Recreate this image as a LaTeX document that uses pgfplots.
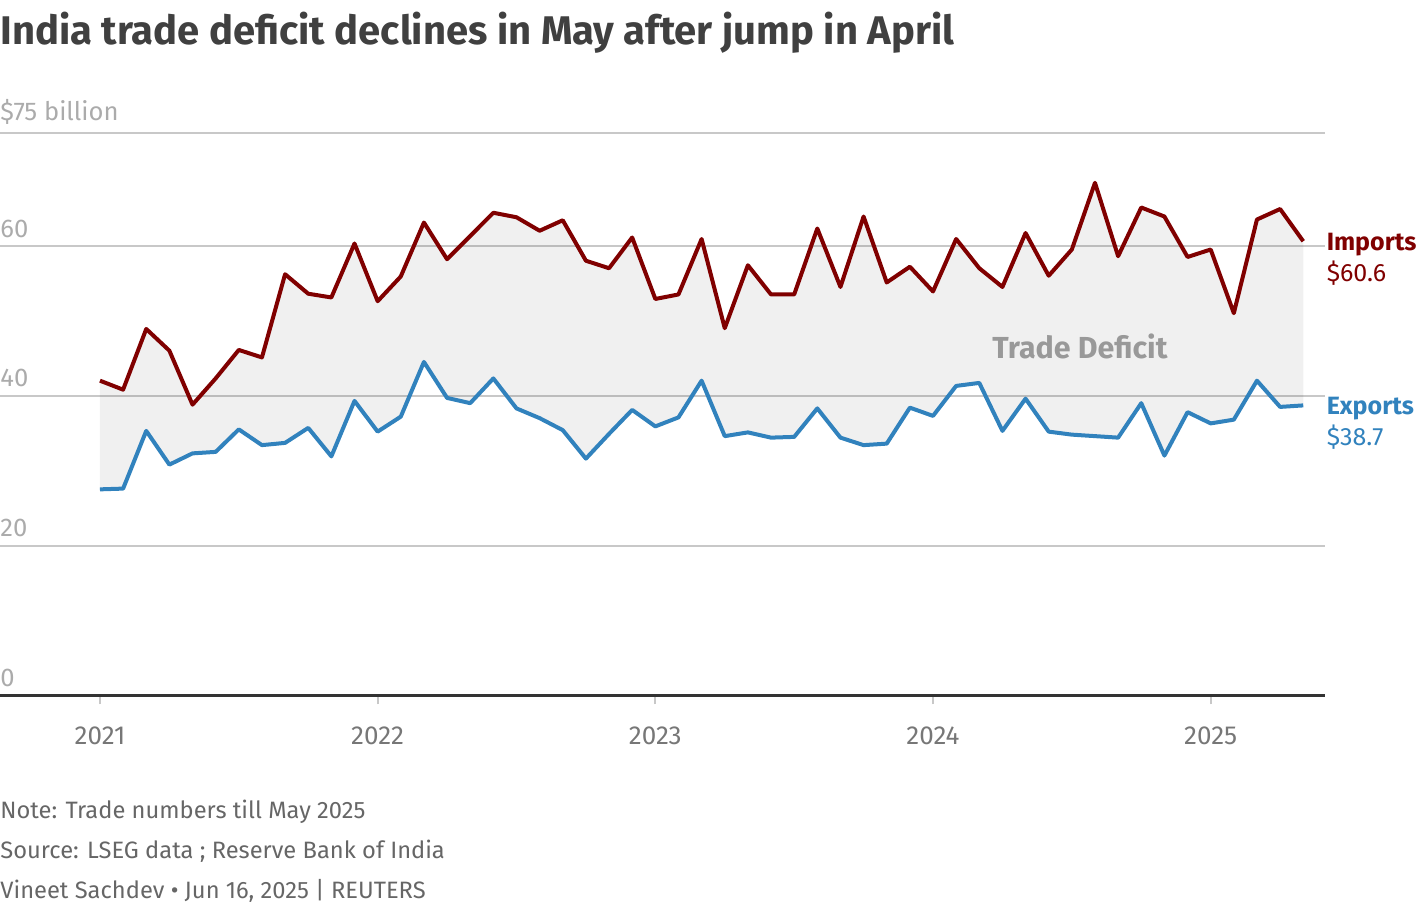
\documentclass[border=0pt]{standalone}
\usepackage{pgfplots}
\pgfplotsset{compat=1.18}
\usepgfplotslibrary{fillbetween}
\usepackage{fontspec}
\setmainfont{Fira Sans}

\definecolor{impred}{HTML}{800000}
\definecolor{expblue}{HTML}{3182BD}
\definecolor{gridgray}{HTML}{C8C8C8}
\definecolor{ylab}{HTML}{ABABAB}
\definecolor{xlab}{HTML}{777777}
\definecolor{foot}{HTML}{666666}
\definecolor{titlegray}{HTML}{404040}
\definecolor{defgray}{HTML}{999999}
\definecolor{baseline}{HTML}{333333}

% monthly values, Jan 2021 (0) .. May 2025 (52), $ billion
\pgfplotstableread{
m imp exp
0 42.0 27.5
1 40.8 27.6
2 48.9 35.3
3 46.0 30.8
4 38.8 32.3
5 42.3 32.5
6 46.1 35.5
7 45.1 33.4
8 56.2 33.7
9 53.6 35.7
10 53.1 31.9
11 60.3 39.3
12 52.6 35.2
13 55.9 37.2
14 63.1 44.5
15 58.2 39.7
16 61.3 39.0
17 64.4 42.3
18 63.8 38.3
19 62.0 37.0
20 63.4 35.4
21 58.0 31.6
22 57.0 34.9
23 61.1 38.1
24 52.9 35.9
25 53.5 37.1
26 60.9 42.0
27 49.0 34.6
28 57.4 35.1
29 53.5 34.4
30 53.5 34.5
31 62.3 38.3
32 54.5 34.4
33 63.9 33.4
34 55.1 33.6
35 57.2 38.4
36 53.9 37.3
37 60.9 41.3
38 57.0 41.7
39 54.5 35.3
40 61.7 39.6
41 56.0 35.2
42 59.5 34.8
43 68.4 34.6
44 58.6 34.4
45 65.1 39.0
46 63.9 32.0
47 58.5 37.8
48 59.5 36.3
49 51.0 36.8
50 63.5 42.0
51 64.9 38.5
52 60.6 38.7
}\trade

\begin{document}
\begin{tikzpicture}
\begin{axis}[
  at={(0,0)}, anchor=south west,
  scale only axis,
  width=662.5pt, height=281.1pt,
  xmin=-4.32, xmax=52.94,
  ymin=0, ymax=75,
  clip=false,
  axis x line*=bottom,
  axis y line*=left,
  y axis line style={draw=none},
  x axis line style={draw=baseline, line width=1.5pt},
  ytick={0,20,40,60,75},
  yticklabels={0,20,40,60,\$75 billion},
  ytick style={draw=none},
  ymajorgrids,
  grid style={draw=gridgray, line width=1pt},
  yticklabel style={anchor=south west, inner sep=0pt, font=\fontsize{12.8}{13}\selectfont, text=ylab, xshift=4.5pt, yshift=4pt},
  /pgf/number format/assume math mode=true,
  xtick={0,12,24,36,48},
  xticklabels={2021,2022,2023,2024,2025},
  xtick style={draw=gridgray, line width=1pt},
  tick align=outside,
  major tick length=4.5pt,
  xticklabel style={font=\fontsize{13}{14}\selectfont, text=xlab, yshift=-7.5pt},
]
\addplot[impred, line width=2pt, line join=round, name path=imp] table[x=m, y=imp] {\trade};
\addplot[expblue, line width=2pt, line join=round, name path=exp] table[x=m, y=exp] {\trade};
\addplot[fill=black, fill opacity=0.06, draw=none] fill between[of=imp and exp];

\node[anchor=west, inner sep=0pt, text=impred, font=\fontsize{12.5}{13}\selectfont\bfseries] at (axis cs:53.0,60.2) {Imports};
\node[anchor=west, inner sep=0pt, text=impred, font=\fontsize{12.5}{13}\selectfont] at (axis cs:53.0,56.3) {\$60.6};
\node[anchor=west, inner sep=0pt, text=expblue, font=\fontsize{12.5}{13}\selectfont\bfseries] at (axis cs:53.0,38.3) {Exports};
\node[anchor=west, inner sep=0pt, text=expblue, font=\fontsize{12.5}{13}\selectfont] at (axis cs:53.0,34.4) {\$38.7};
\node[inner sep=0pt, text=defgray, font=\fontsize{15.2}{16}\selectfont\bfseries] at (axis cs:42.35,46.6) {Trade Deficit};
\end{axis}
\node[anchor=base west, inner sep=0pt, text=titlegray, font=\fontsize{20}{21}\selectfont\bfseries] at (0,325.25pt) {India trade deficit declines in May after jump in April};
\node[anchor=base west, inner sep=0pt, text=foot, font=\fontsize{11.85}{12}\selectfont] at (0,-61.5pt) {Note: Trade numbers till May 2025};
\node[anchor=base west, inner sep=0pt, text=foot, font=\fontsize{11.85}{12}\selectfont] at (0,-81.5pt) {Source: LSEG data ; Reserve Bank of India};
\node[anchor=base west, inner sep=0pt, text=foot, font=\fontsize{11.85}{12}\selectfont] at (0,-101.75pt) {Vineet Sachdev • Jun 16, 2025 | REUTERS};
\pgfresetboundingbox
\path[use as bounding box] (0,-109.25pt) rectangle (710pt,347.75pt);
\end{tikzpicture}
\end{document}
